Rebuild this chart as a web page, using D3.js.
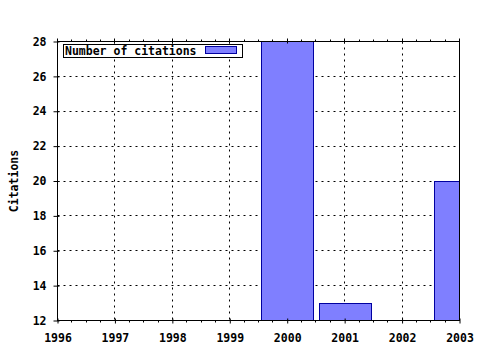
<!DOCTYPE html>
<html>
<head>
<meta charset="utf-8">
<script src="https://cdn.jsdelivr.net/npm/d3@7"></script>
<style>
    body { margin: 0; background: #fff; }
    text { font-family: "DejaVu Sans Mono", monospace; font-weight: bold; font-size: 11.5px; fill: #000; }
</style>
</head>
<body>
<div id="chart"></div>
<script>
// values
const years = [2000, 2001, 2003];
const citations = [28, 13, 20];
const xTicks = [1996, 1997, 1998, 1999, 2000, 2001, 2002, 2003];
const yTicks = [12, 14, 16, 18, 20, 22, 24, 26, 28];
const seriesName = "Number of citations";
const yTitle = "Citations";

class CitationChart {

    constructor(el) {
        this.left = 57.5;
        this.right = 459.5;
        this.top = 41.5;
        this.bottom = 320.5;
        this.x = d3.scaleLinear().domain([1996, 2003]).range([this.left, this.right]);
        this.y = d3.scaleLinear().domain([12, 28]).range([this.bottom, this.top]);
        this.svg = d3.select(el).append("svg").attr("width", 480).attr("height", 350);
    }

    draw() {
        let svg = this.svg, x = this.x, y = this.y;

        svg.append("clipPath").attr("id", "plot")
            .append("rect")
            .attr("x", this.left).attr("y", this.top)
            .attr("width", this.right - this.left).attr("height", this.bottom - this.top);

        // dotted grid
        let grid = svg.append("g").attr("stroke", "#000").attr("stroke-dasharray", "2,4");
        grid.selectAll("line.v")
            .data(xTicks.slice(1, -1))
            .enter().append("line")
            .attr("x1", d => Math.round(x(d) - 0.5) + 0.5).attr("x2", d => Math.round(x(d) - 0.5) + 0.5)
            .attr("y1", this.top).attr("y2", this.bottom);
        grid.selectAll("line.h")
            .data(yTicks.slice(1, -1))
            .enter().append("line")
            .attr("y1", d => Math.round(y(d) - 0.5) + 0.5).attr("y2", d => Math.round(y(d) - 0.5) + 0.5)
            .attr("x1", this.left).attr("x2", this.right);

        // bars
        let w = x(1996.9) - x(1996);
        svg.append("g").attr("clip-path", "url(#plot)")
            .selectAll("rect")
            .data(years)
            .enter().append("rect")
            .attr("x", (d) => Math.round(x(d) - w / 2) + 0.5)
            .attr("y", (d, i) => Math.round(y(citations[i]) - 0.5) + 0.5)
            .attr("width", Math.round(w))
            .attr("height", (d, i) => y(12) - Math.round(y(citations[i]) - 0.5) - 0.5)
            .attr("fill", "#7f7fff")
            .attr("stroke", "#0000a0");

        // border
        svg.append("rect")
            .attr("x", this.left).attr("y", this.top)
            .attr("width", this.right - this.left).attr("height", this.bottom - this.top)
            .attr("fill", "none").attr("stroke", "#000");

        // axes
        let xAxis = svg.append("g")
            .attr("transform", `translate(0,${this.bottom})`)
            .call(d3.axisBottom(x).tickValues(xTicks).tickFormat(d3.format("d")).tickSize(3).tickPadding(10));
        let yAxis = svg.append("g")
            .attr("transform", `translate(${this.left},0)`)
            .call(d3.axisLeft(y).tickValues(yTicks).tickSize(4).tickPadding(7));
        [xAxis, yAxis].forEach(a => {
            a.select(".domain").remove();
            a.attr("font-family", null).attr("font-size", null);
            a.selectAll("line").attr("stroke", "#000");
        });
        yAxis.selectAll(".tick line").attr("x2", -4).attr("x1", 2);
        xAxis.selectAll(".tick line").attr("y1", -2);

        // minor ticks on bottom and top
        let minors = d3.range(1996, 2003.01, 0.25).filter(d => d % 1 !== 0);
        let ticks = svg.append("g").attr("stroke", "#000");
        ticks.selectAll("line.mb")
            .data(minors).enter().append("line")
            .attr("x1", d => Math.round(x(d) - 0.5) + 0.5).attr("x2", d => Math.round(x(d) - 0.5) + 0.5)
            .attr("y1", this.bottom).attr("y2", this.bottom + 2);
        ticks.selectAll("line.mt")
            .data(minors).enter().append("line")
            .attr("x1", d => Math.round(x(d) - 0.5) + 0.5).attr("x2", d => Math.round(x(d) - 0.5) + 0.5)
            .attr("y1", this.top).attr("y2", this.top - 2);
        ticks.selectAll("line.Mt")
            .data(xTicks).enter().append("line")
            .attr("x1", d => Math.round(x(d) - 0.5) + 0.5).attr("x2", d => Math.round(x(d) - 0.5) + 0.5)
            .attr("y1", this.top - 3).attr("y2", this.top + 2);

        // y title
        svg.append("text")
            .attr("transform", "translate(18,181) rotate(-90)")
            .attr("text-anchor", "middle")
            .text(yTitle);

        this.drawLegend();
    }

    drawLegend() {
        let g = this.svg.append("g");
        g.append("rect")
            .attr("x", 63.5).attr("y", 44.5).attr("width", 179).attr("height", 13)
            .attr("fill", "#fff").attr("stroke", "#000");
        g.append("text").attr("x", 65).attr("y", 55).text(seriesName);
        g.append("rect")
            .attr("x", 205.5).attr("y", 46.5).attr("width", 31).attr("height", 7)
            .attr("fill", "#7f7fff").attr("stroke", "#0000a0");
    }
}

new CitationChart("#chart").draw();
</script>
</body>
</html>
